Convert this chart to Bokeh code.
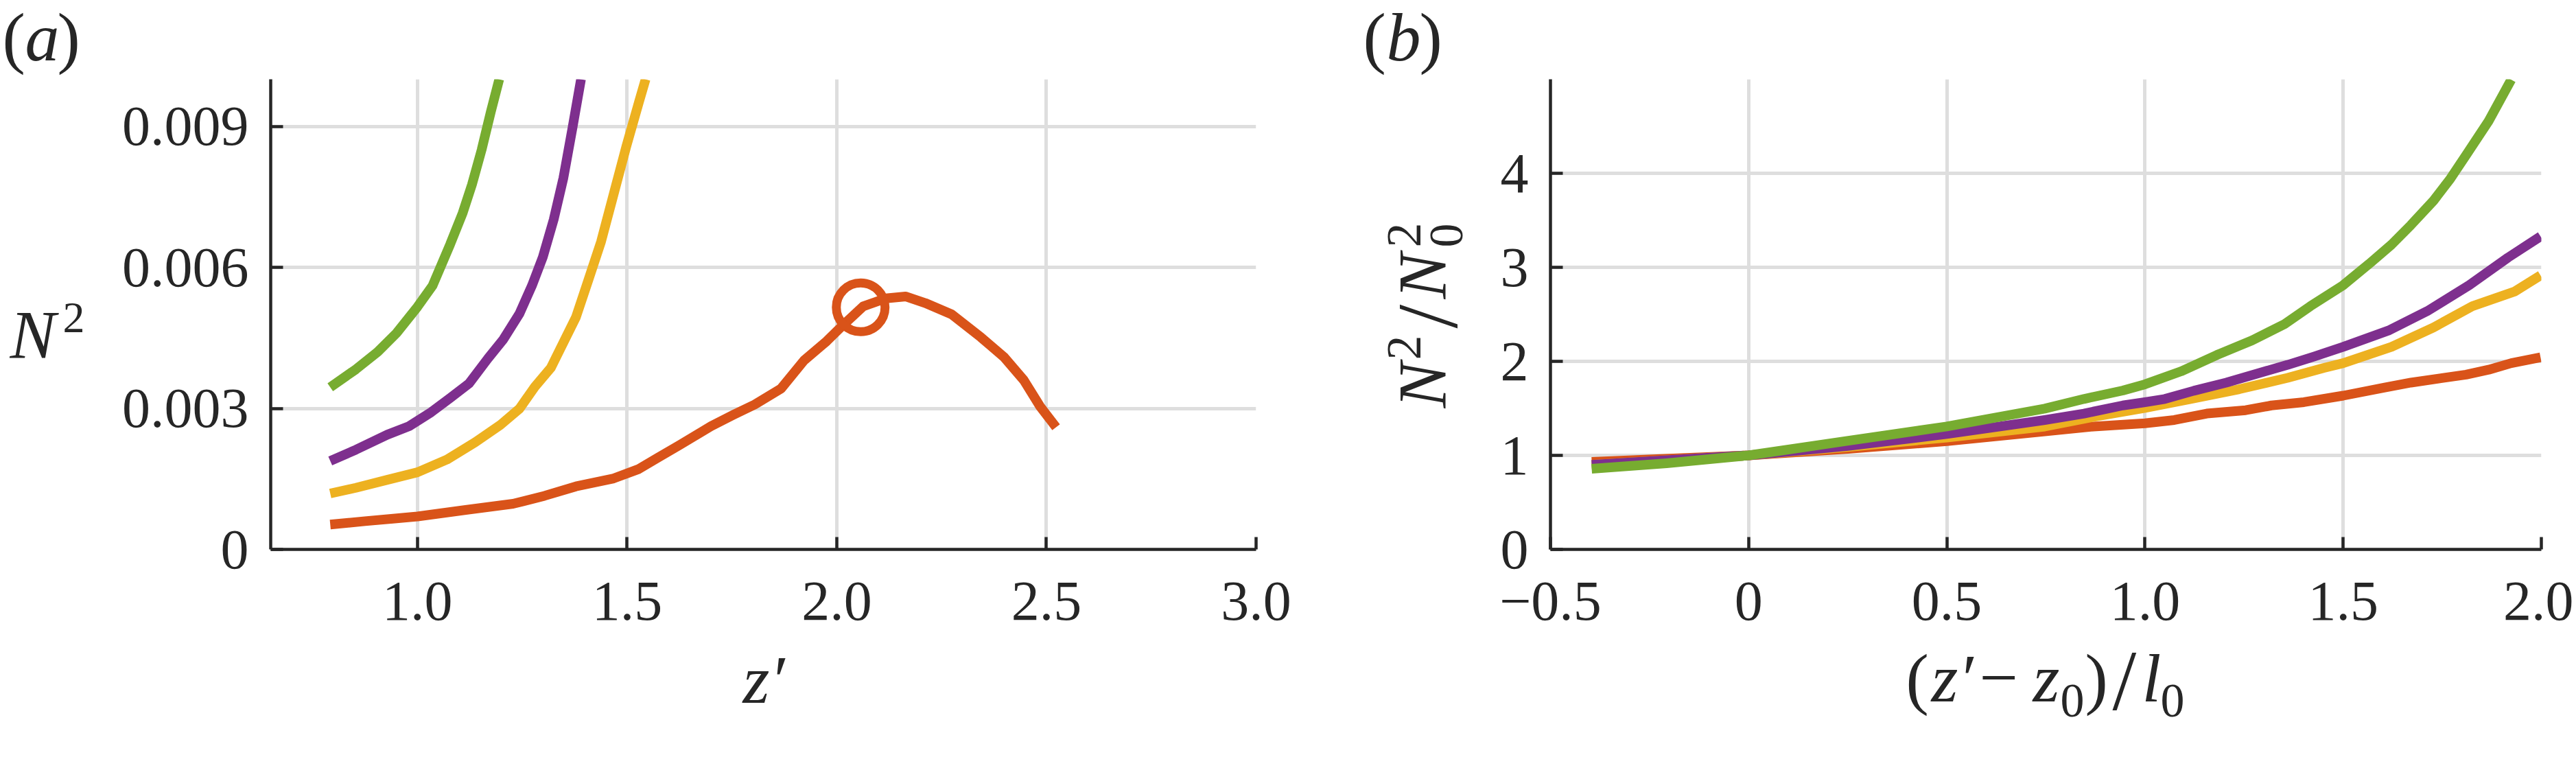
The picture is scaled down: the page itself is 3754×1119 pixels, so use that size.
import numpy as np
from bokeh.plotting import figure
from bokeh.models import FixedTicker, Label, Range1d, GridBox
from bokeh.embed import file_html
from bokeh.resources import INLINE

# ---------------- data: panel (a)  N^2 against z' ----------------
z_green = [0.792, 0.853, 0.905, 0.950, 1.000, 1.036, 1.078, 1.108, 1.130, 1.153, 1.175, 1.195]
n2_green = [0.00345, 0.00383, 0.00420, 0.00460, 0.00516, 0.00561, 0.00649, 0.00716, 0.00776,
            0.00850, 0.00931, 0.01000]

z_purple = [0.792, 0.853, 0.928, 0.980, 1.033, 1.078, 1.123, 1.168, 1.205, 1.243, 1.273, 1.299,
            1.325, 1.348, 1.370, 1.390]
n2_purple = [0.00188, 0.00212, 0.00244, 0.00262, 0.00292, 0.00322, 0.00353, 0.00406, 0.00447,
             0.00501, 0.00561, 0.00622, 0.00702, 0.00790, 0.00898, 0.01000]

z_yellow = [0.792, 0.853, 0.928, 1.000, 1.070, 1.138, 1.198, 1.243, 1.280, 1.318, 1.348, 1.378,
            1.408, 1.438, 1.468, 1.498, 1.528, 1.544]
n2_yellow = [0.00119, 0.00131, 0.00148, 0.00164, 0.00191, 0.00228, 0.00265, 0.00299, 0.00346,
             0.00386, 0.00440, 0.00494, 0.00574, 0.00655, 0.00756, 0.00857, 0.00951, 0.01000]

z_orange = [0.792, 0.875, 1.000, 1.115, 1.228, 1.303, 1.378, 1.468, 1.528, 1.573, 1.625, 1.700,
            1.753, 1.804, 1.867, 1.922, 1.976, 2.016, 2.063, 2.117, 2.164, 2.211, 2.274, 2.344,
            2.399, 2.446, 2.485, 2.523]
n2_orange = [0.00053, 0.00060, 0.00070, 0.00084, 0.00097, 0.00114, 0.00134, 0.00151, 0.00171,
             0.00195, 0.00222, 0.00262, 0.00286, 0.00308, 0.00342, 0.00402, 0.00443, 0.00478,
             0.00517, 0.00534, 0.00538, 0.00524, 0.00500, 0.00451, 0.00409, 0.00360, 0.00304,
             0.00260]

marker_z = [2.057]
marker_n2 = [0.00515]

a_xticks = [1.0, 1.5, 2.0, 2.5, 3.0]
a_xlabels = ["1.0", "1.5", "2.0", "2.5", "3.0"]
a_yticks = [0.0, 0.003, 0.006, 0.009]
a_ylabels = ["0", "0.003", "0.006", "0.009"]

# ---------------- data: panel (b)  N^2/N0^2 against (z'-z0)/l0 ----------------
xb_green = [-0.396, -0.207, 0.0, 0.243, 0.5, 0.747, 0.846, 0.944, 1.0, 1.091, 1.181, 1.270,
            1.352, 1.417, 1.5, 1.565, 1.622, 1.671, 1.728, 1.769, 1.810, 1.867, 1.924]
yb_green = [0.857, 0.916, 1.0, 1.151, 1.307, 1.497, 1.60, 1.69, 1.756, 1.894, 2.067, 2.223,
            2.396, 2.586, 2.810, 3.035, 3.242, 3.450, 3.709, 3.934, 4.193, 4.556, 4.996]

xb_purple = [-0.396, -0.2, 0.0, 0.25, 0.5, 0.747, 0.846, 0.944, 1.0, 1.050, 1.123, 1.205,
             1.303, 1.360, 1.426, 1.5, 1.614, 1.712, 1.818, 1.916, 1.998]
yb_purple = [0.90, 0.95, 1.0, 1.10, 1.227, 1.376, 1.445, 1.531, 1.566, 1.60, 1.687, 1.774,
             1.894, 1.963, 2.050, 2.154, 2.327, 2.534, 2.810, 3.104, 3.329]

xb_yellow = [-0.396, -0.2, 0.0, 0.25, 0.5, 0.747, 0.870, 1.0, 1.115, 1.238, 1.360, 1.450,
             1.5, 1.622, 1.728, 1.826, 1.932, 1.998]
yb_yellow = [0.90, 0.95, 1.0, 1.09, 1.19, 1.307, 1.410, 1.504, 1.60, 1.704, 1.825, 1.929,
             1.981, 2.154, 2.361, 2.586, 2.741, 2.914]

xb_orange = [-0.396, -0.2, 0.0, 0.25, 0.5, 0.747, 0.870, 1.0, 1.074, 1.156, 1.254, 1.319,
             1.401, 1.5, 1.605, 1.671, 1.810, 1.867, 1.924, 1.998]
yb_orange = [0.93, 0.965, 1.0, 1.07, 1.151, 1.255, 1.307, 1.341, 1.376, 1.445, 1.480, 1.531,
             1.566, 1.635, 1.722, 1.774, 1.859, 1.911, 1.981, 2.043]

b_xticks = [-0.5, 0.0, 0.5, 1.0, 1.5, 2.0]
b_xlabels = ["\u22120.5", "0", "0.5", "1.0", "1.5", "2.0"]
b_yticks = [0.0, 1.0, 2.0, 3.0, 4.0]
b_ylabels = ["0", "1", "2", "3", "4"]

# ---------------- style ----------------
FONT = "Liberation Serif"
INK = "#262626"
GRID = "#dedede"
C_GREEN, C_PURPLE, C_YELLOW, C_ORANGE = "#77AC30", "#7E2F8E", "#EDB120", "#D95319"
LW = 14
TICK_SIZE = "82px"
LAB_SIZE = 100

H = 1110
W1, W2 = 1958, 1792
PAGE = 0  # bokeh's page template removes the body margin
# frame geometry in page pixels
GA = dict(x0=0.65, x1=3.0, L=394, R=1830, y0=0.0, y1=0.010, T=115, B=800)
GB = dict(x0=-0.5, x1=2.0, L=2259, R=3703, y0=0.0, y1=5.0, T=115, B=800)


def make_fig(g, fig_left, width):
    p = figure(width=width, height=H,
               x_range=Range1d(g["x0"], g["x1"]), y_range=Range1d(g["y0"], g["y1"]),
               output_backend="svg", toolbar_location=None,
               min_border_left=g["L"] - fig_left,
               min_border_right=fig_left + width - g["R"],
               min_border_top=g["T"] - PAGE,
               min_border_bottom=PAGE + H - g["B"])
    p.outline_line_color = None
    p.background_fill_color = "white"
    p.border_fill_color = "white"
    p.grid.grid_line_color = GRID
    p.grid.grid_line_width = 5
    for ax in (p.xaxis[0], p.yaxis[0]):
        ax.axis_line_width = 4.5
        ax.axis_line_color = INK
        ax.major_tick_line_color = INK
        ax.major_tick_line_width = 4.5
        ax.major_tick_in = 18
        ax.major_tick_out = 0
        ax.minor_tick_line_color = None
        ax.major_label_text_font = FONT
        ax.major_label_text_font_size = TICK_SIZE
        ax.major_label_text_color = INK
    p.xaxis.major_label_standoff = 48
    p.yaxis.major_label_standoff = 32
    return p


def set_ticks(p, xt, xl, yt, yl):
    p.xaxis.ticker = FixedTicker(ticks=xt)
    p.yaxis.ticker = FixedTicker(ticks=yt)
    p.xgrid.ticker = FixedTicker(ticks=xt)
    p.ygrid.ticker = FixedTicker(ticks=yt)
    p.xaxis.major_label_overrides = {t: s for t, s in zip(xt, xl)}
    p.yaxis.major_label_overrides = {t: s for t, s in zip(yt, yl)}


# ---------------- panel (a) ----------------
p1 = make_fig(GA, PAGE, W1)
set_ticks(p1, a_xticks, a_xlabels, a_yticks, a_ylabels)
for zs, ns, c in ((z_green, n2_green, C_GREEN), (z_purple, n2_purple, C_PURPLE),
                  (z_yellow, n2_yellow, C_YELLOW), (z_orange, n2_orange, C_ORANGE)):
    p1.line(zs, ns, line_color=c, line_width=LW, line_join="round")
p1.scatter(marker_z, marker_n2, marker="circle", size=71, fill_color=None,
           line_color=C_ORANGE, line_width=13)

# ---------------- panel (b) ----------------
p2 = make_fig(GB, PAGE + W1, W2)
set_ticks(p2, b_xticks, b_xlabels, b_yticks, b_ylabels)
for xs, ys, c in ((xb_orange, yb_orange, C_ORANGE), (xb_yellow, yb_yellow, C_YELLOW),
                  (xb_purple, yb_purple, C_PURPLE), (xb_green, yb_green, C_GREEN)):
    p2.line(xs, ys, line_color=c, line_width=LW, line_join="round")

# ---------------- transparent overlay carrying the labels (page-pixel coordinates) ----------------
ov = figure(frame_width=W1 + W2, frame_height=H,
            x_range=Range1d(PAGE, PAGE + W1 + W2), y_range=Range1d(PAGE + H, PAGE),
            output_backend="svg", toolbar_location=None,
            x_axis_location=None, y_axis_location=None, min_border=0)
try:
    ov.frame_align = False
except Exception:
    pass
ov.outline_line_color = None
ov.background_fill_color = None
ov.border_fill_color = None
ov.xgrid.visible = False
ov.ygrid.visible = False

# the label anchor lands below the alphabetic baseline by about 0.4 em; compensate
BASE_SHIFT = 0.4


def put(X, Y, text, size=LAB_SIZE, italic=False, vertical=False):
    d = BASE_SHIFT * size
    if vertical:
        X, angle = X - d, np.pi / 2
    else:
        Y, angle = Y - d, 0.0
    ov.add_layout(Label(x=X, y=Y, text=text, text_font=FONT, text_font_size=f"{size}px",
                        text_font_style="italic" if italic else "normal",
                        text_color=INK, text_align="left", text_baseline="alphabetic",
                        angle=angle))


# panel letter (a)
put(3, 94, "(")
put(36, 94, "a", italic=True)
put(83, 94, ")")
# y label N^2
put(14, 527, "N", italic=True)
put(91, 488, "2", size=64)
# x label z'
put(1082, 1030, "z\u2032", italic=True)

# panel letter (b)
put(1986, 94, "(")
put(2020, 94, "b", italic=True)
put(2068, 94, ")")

# y label N^2 / N0^2 (rotated, reading upwards)
put(2112, 594, "N", italic=True, vertical=True)
put(2075, 524, "2", size=72, vertical=True)
put(2130, 478, "/", size=125, vertical=True)
put(2112, 435, "N", italic=True, vertical=True)
put(2135, 360, "0", size=70, vertical=True)
put(2075, 360, "2", size=72, vertical=True)

# x label (z' - z0)/l0
put(2777, 1028, "(")
put(2814, 1028, "z\u2032", italic=True)
put(2884, 1028, "\u2212")
put(2962, 1028, "z", italic=True)
put(3002, 1048, "0", size=70)
put(3038, 1028, ")")
put(3078, 1041, "/", size=125)
put(3121, 1028, "l", italic=True)
put(3148, 1048, "0", size=70)

layout = GridBox(children=[(p1, 0, 0), (p2, 0, 1), (ov, 0, 0, 1, 2)])
open("out.html", "w").write(file_html(layout, INLINE))
